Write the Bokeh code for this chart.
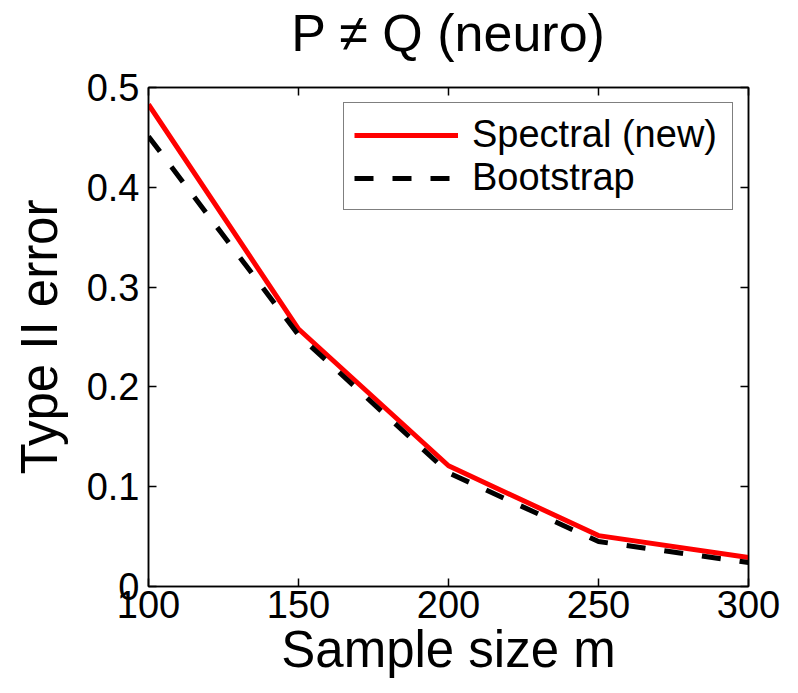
from bokeh.plotting import figure
from bokeh.models import LinearAxis, Range1d, FixedTicker, Legend, LegendItem
from bokeh.embed import file_html
from bokeh.resources import INLINE

sample_size = [100, 150, 200, 250, 300]
spectral = [0.483, 0.258, 0.121, 0.051, 0.029]
bootstrap = [0.451, 0.252, 0.114, 0.045, 0.024]
x_ticks = [100, 150, 200, 250, 300]
y_ticks = [0, 0.1, 0.2, 0.3, 0.4, 0.5]
title_text = "P \u2260 Q (neuro)"

FONT = "Liberation Sans"

p = figure(width=782, height=685, output_backend="svg", toolbar_location=None,
           x_range=Range1d(100, 300), y_range=Range1d(0, 0.5),
           min_border_left=148, min_border_right=34, min_border_top=86, min_border_bottom=99)
p.grid.visible = False
p.outline_line_color = "black"
p.outline_line_width = 1.5

for ax in [p.xaxis[0], p.yaxis[0]]:
    ax.major_tick_in = 8
    ax.major_tick_out = 0
    ax.minor_tick_in = 0
    ax.minor_tick_out = 0
    ax.axis_line_width = 1.5
    ax.major_tick_line_width = 1.5
    ax.major_label_text_font = FONT
    ax.major_label_text_font_size = "38px"
    ax.major_label_text_color = "black"
    ax.axis_label_text_font = FONT
    ax.axis_label_text_font_size = "51px"
    ax.axis_label_text_font_style = "normal"
    ax.axis_label_text_color = "black"

p.xaxis.ticker = FixedTicker(ticks=x_ticks)
p.yaxis.ticker = FixedTicker(ticks=y_ticks)
p.yaxis.major_label_overrides = {0: "0", 0.1: "0.1", 0.2: "0.2", 0.3: "0.3", 0.4: "0.4", 0.5: "0.5"}
p.xaxis.axis_label = "Sample size m"
p.yaxis.axis_label = "Type II error"
p.xaxis.major_label_standoff = 4
p.yaxis.major_label_standoff = 9
p.xaxis.axis_label_standoff = 0
p.yaxis.axis_label_standoff = 16

right_ax = LinearAxis(ticker=FixedTicker(ticks=y_ticks), major_label_text_font_size="0px",
                      major_tick_in=8, major_tick_out=0, minor_tick_in=0, minor_tick_out=0,
                      axis_line_width=1.5, major_tick_line_width=1.5, major_label_standoff=0)
p.add_layout(right_ax, "right")

top_ax = LinearAxis(ticker=FixedTicker(ticks=x_ticks), major_label_text_font_size="0px",
                    major_tick_in=8, major_tick_out=0, minor_tick_in=0, minor_tick_out=0,
                    axis_line_width=1.5, major_tick_line_width=1.5, major_label_standoff=0,
                    axis_label=title_text, axis_label_text_font=FONT,
                    axis_label_text_font_size="52px", axis_label_text_font_style="normal",
                    axis_label_text_color="black", axis_label_standoff=26)
p.add_layout(top_ax, "above")

r1 = p.line(sample_size, spectral, line_color="#ff0000", line_width=5)
r2 = p.line(sample_size, bootstrap, line_color="black", line_width=5, line_dash="19 19")

legend = Legend(items=[LegendItem(label="Spectral (new)", renderers=[r1]),
                       LegendItem(label="Bootstrap", renderers=[r2])],
                location="top_right", label_text_font=FONT, label_text_font_size="38px",
                label_text_color="black",
                glyph_width=104, glyph_height=40, spacing=-3, padding=10, margin=15,
                label_standoff=14, label_width=250, border_line_color="black",
                border_line_width=1.5, background_fill_alpha=1)
p.add_layout(legend)

open("out.html", "w").write(file_html(p, INLINE))
